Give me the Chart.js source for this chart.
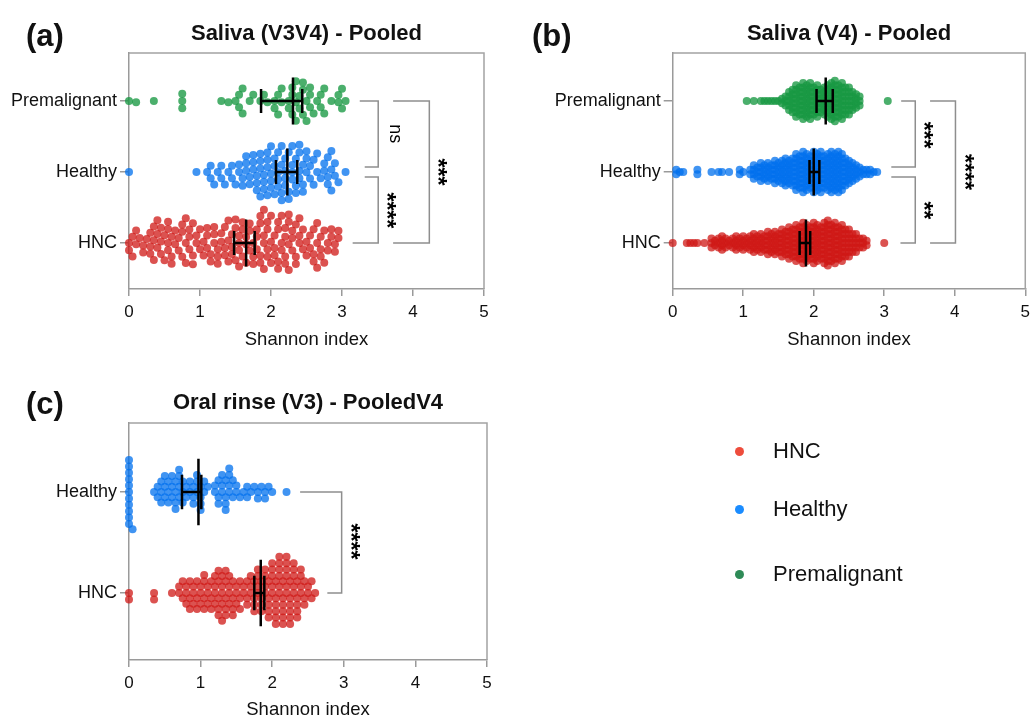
<!DOCTYPE html>
<html><head><meta charset="utf-8">
<script src="https://cdn.jsdelivr.net/npm/chart.js@4.4.0/dist/chart.umd.min.js"></script>
<style>
html,body{margin:0;padding:0;background:#fff;overflow:hidden;width:1032px;height:720px;position:relative;}
canvas{position:absolute;}
#legend{position:absolute;left:0;top:0;width:1032px;height:720px;font-family:"Liberation Sans",Arial,Helvetica,sans-serif;font-size:22px;color:#111;pointer-events:none;}
.li{position:absolute;white-space:nowrap;line-height:26px;}
.dot{position:absolute;width:9px;height:9px;border-radius:50%;}
</style></head><body>
<canvas id="ca" width="516" height="365" style="left:0;top:0"></canvas>
<canvas id="cb" width="520" height="365" style="left:516px;top:0"></canvas>
<canvas id="cc" width="516" height="365" style="left:0;top:365px"></canvas>
<div id="legend"></div>
<script>
// ---------------- DATA (Shannon index values as [value, count]) ----------------
const categories3 = ['HNC', 'Healthy', 'Premalignant'];
const categories2 = ['HNC', 'Healthy'];
const xTicks = [0, 1, 2, 3, 4, 5];

// (a) Saliva (V3V4) - Pooled
const a_HNC = [[0,2],[0.05,2],[0.1,2],[0.15,1],[0.2,2],[0.25,1],[0.3,3],[0.35,3],[0.4,3],[0.45,3],[0.5,2],[0.55,4],
  [0.6,3],[0.65,2],[0.7,2],[0.75,3],[0.8,3],[0.85,3],[0.9,3],[0.95,2],[1.0,2],[1.05,2],[1.1,3],[1.15,2],
  [1.2,3],[1.25,3],[1.3,2],[1.35,3],[1.4,3],[1.45,3],[1.5,3],[1.55,4],[1.6,3],[1.65,3],[1.7,3],[1.75,3],
  [1.8,3],[1.85,4],[1.9,4],[1.95,4],[2.0,3],[2.05,3],[2.1,4],[2.15,3],[2.2,4],[2.25,4],[2.3,3],[2.35,3],
  [2.4,3],[2.45,2],[2.5,2],[2.55,2],[2.6,3],[2.65,3],[2.7,3],[2.75,2],[2.8,2],[2.85,2],[2.9,2],[2.95,2]];
const a_Healthy = [[0,1],[0.95,1],[1.1,1],[1.15,2],[1.2,1],[1.25,1],[1.3,2],[1.35,1],[1.4,1],[1.45,2],[1.5,1],
  [1.55,2],[1.6,2],[1.65,3],[1.7,2],[1.75,3],[1.8,3],[1.85,4],[1.9,3],[1.95,4],[2.0,4],[2.05,3],[2.1,4],[2.15,4],
  [2.2,4],[2.25,3],[2.3,4],[2.35,3],[2.4,4],[2.45,3],[2.5,3],[2.55,2],[2.6,2],[2.65,2],[2.7,1],[2.75,2],[2.8,3],
  [2.85,3],[2.9,2],[2.95,1],[3.05,1]];
const a_Premalignant = [[0,1],[0.1,1],[0.35,1],[0.75,3],[1.3,1],[1.4,1],[1.5,1],[1.55,2],[1.6,2],[1.7,1],[1.75,1],
  [1.85,1],[1.9,1],[1.95,1],[2.05,2],[2.1,2],[2.15,2],[2.25,2],[2.3,3],[2.35,3],[2.4,2],[2.45,3],[2.5,2],[2.55,3],[2.6,1],
  [2.65,1],[2.7,2],[2.75,2],[2.85,1],[2.95,2],[3.0,2],[3.05,1]];
const a_median = [1.65, 2.23, 2.31];
const a_ciLow  = [1.48, 2.07, 1.86];
const a_ciHigh = [1.77, 2.37, 2.44];
const a_stars  = ['ns', '****', '***'];

// (b) Saliva (V4) - Pooled
const b_HNC = [[0,1],[0.2,1],[0.25,1],[0.3,1],[0.35,1],[0.45,1],[0.55,3],[0.6,2],[0.65,3],[0.7,4],[0.75,3],[0.8,2],
  [0.85,3],[0.9,4],[0.95,3],[1.0,4],[1.05,3],[1.1,4],[1.15,5],[1.2,4],[1.25,5],[1.3,4],[1.35,6],[1.4,5],[1.45,6],
  [1.5,5],[1.55,7],[1.6,6],[1.65,8],[1.7,7],[1.75,9],[1.8,8],[1.85,10],[1.9,9],[1.95,8],[2.0,10],[2.05,9],[2.1,8],
  [2.15,10],[2.2,11],[2.25,9],[2.3,10],[2.35,8],[2.4,9],[2.45,7],[2.5,7],[2.55,5],[2.6,5],[2.65,3],[2.7,3],[2.75,2],[3.0,1]];
const b_Healthy = [[0.05,2],[0.1,1],[0.15,1],[0.35,2],[0.55,1],[0.65,1],[0.7,1],[0.8,1],[0.95,2],[1.0,1],[1.1,2],
  [1.15,4],[1.2,3],[1.25,5],[1.3,4],[1.35,5],[1.4,4],[1.45,6],[1.5,5],[1.55,6],[1.6,7],[1.65,6],[1.7,7],[1.75,9],
  [1.8,8],[1.85,10],[1.9,9],[1.95,8],[2.0,10],[2.05,9],[2.1,10],[2.15,8],[2.2,9],[2.25,10],[2.3,9],[2.35,10],[2.4,9],
  [2.45,7],[2.5,6],[2.55,5],[2.6,4],[2.65,3],[2.7,2],[2.75,2],[2.8,2],[2.85,1],[2.9,1]];
const b_Premalignant = [[1.05,1],[1.15,1],[1.25,1],[1.3,1],[1.35,1],[1.4,1],[1.45,1],[1.5,1],[1.55,2],[1.6,3],[1.65,5],
  [1.7,6],[1.75,8],[1.8,7],[1.85,9],[1.9,8],[1.95,9],[2.0,7],[2.05,8],[2.1,6],[2.15,7],[2.2,8],[2.25,9],[2.3,10],
  [2.35,8],[2.4,9],[2.45,7],[2.5,7],[2.55,5],[2.6,4],[2.65,3],[3.05,1]];
const b_median = [1.89, 2.00, 2.17];
const b_ciLow  = [1.80, 1.94, 2.04];
const b_ciHigh = [1.95, 2.08, 2.27];
const b_stars  = ['***', '**', '****'];

// (c) Oral rinse (V3) - PooledV4
const c_HNC = [[0,2],[0.35,2],[0.6,1],[0.7,2],[0.75,2],[0.8,3],[0.85,3],[0.9,3],[0.95,3],[1.0,3],[1.05,4],[1.1,3],
  [1.15,3],[1.2,4],[1.25,5],[1.3,5],[1.35,5],[1.4,4],[1.45,4],[1.5,3],[1.55,3],[1.6,2],[1.65,3],[1.7,3],[1.75,4],
  [1.8,4],[1.85,4],[1.9,4],[1.95,5],[2.0,5],[2.05,6],[2.1,6],[2.15,6],[2.2,6],[2.25,6],[2.3,5],[2.35,5],[2.4,4],
  [2.45,3],[2.5,2],[2.55,2],[2.6,1]];
const c_Healthy = [[0,11],[0.05,1],[0.35,1],[0.4,2],[0.45,3],[0.5,3],[0.55,3],[0.6,3],[0.65,4],[0.7,4],[0.75,3],
  [0.8,2],[0.85,2],[0.9,3],[0.95,3],[1.0,4],[1.05,2],[1.1,1],[1.2,2],[1.25,3],[1.3,3],[1.35,4],[1.4,4],[1.45,2],
  [1.5,2],[1.55,1],[1.6,1],[1.65,2],[1.7,1],[1.75,1],[1.8,2],[1.85,1],[1.9,2],[1.95,1],[2.0,1],[2.2,1]];
const c_median = [1.84, 0.97];
const c_ciLow  = [1.75, 0.74];
const c_ciHigh = [1.89, 1.01];
const c_stars  = ['****'];

// ---------------- STYLE / LAYOUT ----------------
const FONT = '"Liberation Sans", Arial, Helvetica, sans-serif';
const COLORS = ['rgba(207,24,22,0.75)', 'rgba(0,112,238,0.75)', 'rgba(24,152,66,0.78)'];
const LEGEND_COLORS = ['#ee4c3c', '#1a8cff', '#2e8b57'];
Chart.defaults.font.family = FONT;
Chart.defaults.color = '#111';

function expand(pairs) {
  const out = [];
  pairs.forEach(([v, n]) => { for (let k = 0; k < n; k++) out.push(v); });
  return out;
}

// greedy beeswarm (pixel space): each point takes the free slot nearest the category line
function swarmGreedy(px, dc) {
  const order = px.map((p, i) => i).sort((a, b) => px[a] - px[b]);
  const placed = [];
  const off = new Array(px.length).fill(0);
  let flip = 1;
  order.forEach(idx => {
    const x = px[idx];
    const neigh = placed.filter(p => Math.abs(p.x - x) < dc);
    const cands = [0];
    neigh.forEach(p => {
      const dy = Math.sqrt(dc * dc - (p.x - x) * (p.x - x));
      cands.push(p.y + dy, p.y - dy);
    });
    cands.sort((a, b) => (Math.abs(a) - Math.abs(b)) || (flip * (b - a)));
    let y = 0;
    for (const c of cands) {
      if (neigh.every(p => (p.x - x) ** 2 + (p.y - c) ** 2 >= dc * dc - 1e-6)) { y = c; break; }
    }
    flip = -flip;
    placed.push({ x, y });
    off[idx] = y;
  });
  return off;
}

// column beeswarm (for very dense groups): points in a column stacked with a fixed step
function swarmColumns(vals, colW, step) {
  const cols = new Map();
  vals.forEach((v, i) => {
    const c = Math.floor(v / colW + 1e-9);
    if (!cols.has(c)) cols.set(c, []);
    cols.get(c).push(i);
  });
  const off = new Array(vals.length).fill(0);
  let flip = 1;
  cols.forEach(idx => {
    const n = idx.length;
    const slots = [];
    for (let k = 0; k < n; k++) slots.push((k - (n - 1) / 2) * step);
    slots.sort((a, b) => (Math.abs(a) - Math.abs(b)) || (flip * (b - a)));
    flip = -flip;
    idx.forEach((pi, k) => { off[pi] = slots[k]; });
  });
  return off;
}

const decor = {
  id: 'decor',
  afterDatasetsDraw(chart, args, o) {
    const { ctx, chartArea: ca, scales: { x, y } } = chart;
    ctx.save();
    ctx.strokeStyle = '#a3a3a3'; ctx.lineWidth = 1.5;
    ctx.beginPath(); ctx.moveTo(ca.left, ca.top); ctx.lineTo(ca.right, ca.top); ctx.lineTo(ca.right, ca.bottom); ctx.stroke();
    // median + 95% CI
    ctx.strokeStyle = '#000'; ctx.lineWidth = 2.5;
    o.median.forEach((m, i) => {
      const yc = y.getPixelForValue(i);
      const yL = Math.abs(y.getPixelForValue(i + o.medLen) - yc);
      const yS = Math.abs(y.getPixelForValue(i + o.ciLen) - yc);
      const xm = x.getPixelForValue(m), xl = x.getPixelForValue(o.lo[i]), xh = x.getPixelForValue(o.hi[i]);
      ctx.beginPath();
      ctx.moveTo(xm, yc - yL); ctx.lineTo(xm, yc + yL);
      ctx.moveTo(xl, yc - yS); ctx.lineTo(xl, yc + yS);
      ctx.moveTo(xh, yc - yS); ctx.lineTo(xh, yc + yS);
      ctx.moveTo(xl, yc); ctx.lineTo(xh, yc);
      ctx.stroke();
    });
    // significance brackets
    o.brackets.forEach((b, k) => {
      ctx.strokeStyle = '#8e8e8e'; ctx.lineWidth = 1.5;
      const yt = y.getPixelForValue(b.yTop), yb = y.getPixelForValue(b.yBot), xv = x.getPixelForValue(b.xv);
      ctx.beginPath();
      ctx.moveTo(x.getPixelForValue(b.xTop), yt); ctx.lineTo(xv, yt); ctx.lineTo(xv, yb);
      ctx.lineTo(x.getPixelForValue(b.xBot), yb);
      ctx.stroke();
      const label = o.stars[k];
      ctx.save();
      ctx.translate(x.getPixelForValue(b.lx), y.getPixelForValue(b.ly));
      ctx.rotate(Math.PI / 2);
      ctx.fillStyle = '#000';
      ctx.textAlign = 'center';
      ctx.textBaseline = 'middle';
      if (label === 'ns') { ctx.font = '18px ' + FONT; ctx.fillText(label, 0, 0); }
      else { ctx.font = 'bold 23px ' + FONT; ctx.fillText(label, 0, 6); }
      ctx.restore();
    });
    // titles
    ctx.fillStyle = '#111';
    ctx.textBaseline = 'middle';
    ctx.textAlign = 'center';
    ctx.font = 'bold 22px ' + FONT;
    ctx.fillText(o.title, (ca.left + ca.right) / 2, o.titleY);
    ctx.textAlign = 'left';
    ctx.font = 'bold 31px ' + FONT;
    ctx.fillText(o.letter, o.letterX, o.letterY);
    ctx.restore();
  }
};

function makePanel(cfg) {
  const groups = cfg.groups.map(expand);
  const datasets = groups.map((vals, i) => ({
    label: cfg.categories[i],
    data: vals.map(v => ({ x: v, y: i })),
    backgroundColor: COLORS[i],
    borderWidth: 0,
    pointRadius: cfg.r,
    pointHoverRadius: cfg.r,
    clip: false
  }));
  const chart = new Chart(document.getElementById(cfg.id), {
    type: 'scatter',
    data: { datasets },
    options: {
      responsive: false, animation: false, events: [],
      layout: { padding: { left: 0, top: cfg.top, right: cfg.right, bottom: 0 } },
      plugins: { legend: { display: false }, tooltip: { enabled: false }, decor: cfg.decor },
      scales: {
        x: {
          type: 'linear', min: 0, max: 5,
          afterBuildTicks: s => { s.ticks = xTicks.map(v => ({ value: v })); },
          afterFit: s => { s.height = cfg.xh; },
          ticks: { font: { size: 17 }, color: '#111', padding: 6, maxRotation: 0 },
          grid: { drawOnChartArea: false, drawTicks: true, tickLength: 7, color: '#9a9a9a', lineWidth: 1.5 },
          border: { display: true, color: '#9a9a9a', width: 1.5 },
          title: { display: true, text: 'Shannon index', font: { size: 18.5 }, color: '#111', padding: { top: 0, bottom: cfg.tb } }
        },
        y: {
          type: 'linear', min: cfg.ymin, max: cfg.ymax,
          afterBuildTicks: s => { s.ticks = cfg.categories.map((c, i) => ({ value: i })); },
          afterFit: s => { s.width = cfg.yw; },
          ticks: { font: { size: 18 }, color: '#111', padding: 3, callback: v => cfg.categories[v] },
          grid: { drawOnChartArea: false, drawTicks: true, tickLength: 9, color: '#9a9a9a', lineWidth: 1.5 },
          border: { display: true, color: '#9a9a9a', width: 1.5 }
        }
      }
    },
    plugins: [decor]
  });
  const xs = chart.scales.x, ys = chart.scales.y;
  const ppu = Math.abs(ys.getPixelForValue(0) - ys.getPixelForValue(1));
  groups.forEach((vals, i) => {
    const off = cfg.method === 'columns'
      ? swarmColumns(vals, cfg.colW, cfg.step)
      : swarmGreedy(vals.map(v => xs.getPixelForValue(v)), cfg.dc);
    chart.data.datasets[i].data = vals.map((v, k) => ({ x: v, y: i + off[k] / ppu }));
  });
  chart.update('none');
  return chart;
}

makePanel({
  id: 'ca', categories: categories3, groups: [a_HNC, a_Healthy, a_Premalignant],
  top: 53, right: 32, xh: 76, tb: 14, yw: 129, ymin: -0.648, ymax: 2.676, r: 4, method: 'greedy', dc: 7.2,
  decor: {
    title: 'Saliva (V3V4) - Pooled', titleY: 34, letter: '(a)', letterX: 26, letterY: 37,
    median: a_median, lo: a_ciLow, hi: a_ciHigh, medLen: 0.33, ciLen: 0.17, stars: a_stars,
    brackets: [
      { yTop: 2, yBot: 1.07, xTop: 3.25, xBot: 3.32, xv: 3.51, lx: 3.75, ly: 1.54 },
      { yTop: 0.93, yBot: 0, xTop: 3.32, xBot: 3.15, xv: 3.51, lx: 3.70, ly: 0.46 },
      { yTop: 2, yBot: 0, xTop: 3.72, xBot: 3.72, xv: 4.23, lx: 4.42, ly: 1.0 }
    ]
  }
});
makePanel({
  id: 'cb', categories: categories3, groups: [b_HNC, b_Healthy, b_Premalignant],
  top: 53, right: 8, xh: 76, tb: 14, yw: 156.7, ymin: -0.648, ymax: 2.676, r: 4, method: 'columns', colW: 0.05, step: 4.5,
  decor: {
    title: 'Saliva (V4) - Pooled', titleY: 34, letter: '(b)', letterX: 16, letterY: 37,
    median: b_median, lo: b_ciLow, hi: b_ciHigh, medLen: 0.33, ciLen: 0.17, stars: b_stars,
    brackets: [
      { yTop: 2, yBot: 1.07, xTop: 3.24, xBot: 3.10, xv: 3.44, lx: 3.62, ly: 1.52 },
      { yTop: 0.93, yBot: 0, xTop: 3.10, xBot: 3.23, xv: 3.44, lx: 3.62, ly: 0.46 },
      { yTop: 2, yBot: 0, xTop: 3.65, xBot: 3.65, xv: 4.01, lx: 4.21, ly: 1.0 }
    ]
  }
});
makePanel({
  id: 'cc', categories: categories2, groups: [c_HNC, c_Healthy],
  top: 58, right: 29, xh: 70, tb: 9, yw: 129, ymin: -0.663, ymax: 1.683, r: 4, method: 'greedy', dc: 6.4,
  decor: {
    title: 'Oral rinse (V3) - PooledV4', titleY: 38, letter: '(c)', letterX: 26, letterY: 40,
    median: c_median, lo: c_ciLow, hi: c_ciHigh, medLen: 0.33, ciLen: 0.17, stars: c_stars,
    brackets: [
      { yTop: 1, yBot: 0, xTop: 2.39, xBot: 2.77, xv: 2.97, lx: 3.16, ly: 0.51 }
    ]
  }
});

// legend
const legendNames = ['HNC', 'Healthy', 'Premalignant'];
const legendY = [451, 509, 574];
const lg = document.getElementById('legend');
legendNames.forEach((n, i) => {
  const d = document.createElement('div'); d.className = 'dot';
  d.style.left = (739 - 4.5) + 'px'; d.style.top = (legendY[i] - 4.5) + 'px'; d.style.background = LEGEND_COLORS[i];
  lg.appendChild(d);
  const t = document.createElement('div'); t.className = 'li'; t.textContent = n;
  t.style.left = '773px'; t.style.top = (legendY[i] - 13) + 'px';
  lg.appendChild(t);
});
</script>
</body></html>
